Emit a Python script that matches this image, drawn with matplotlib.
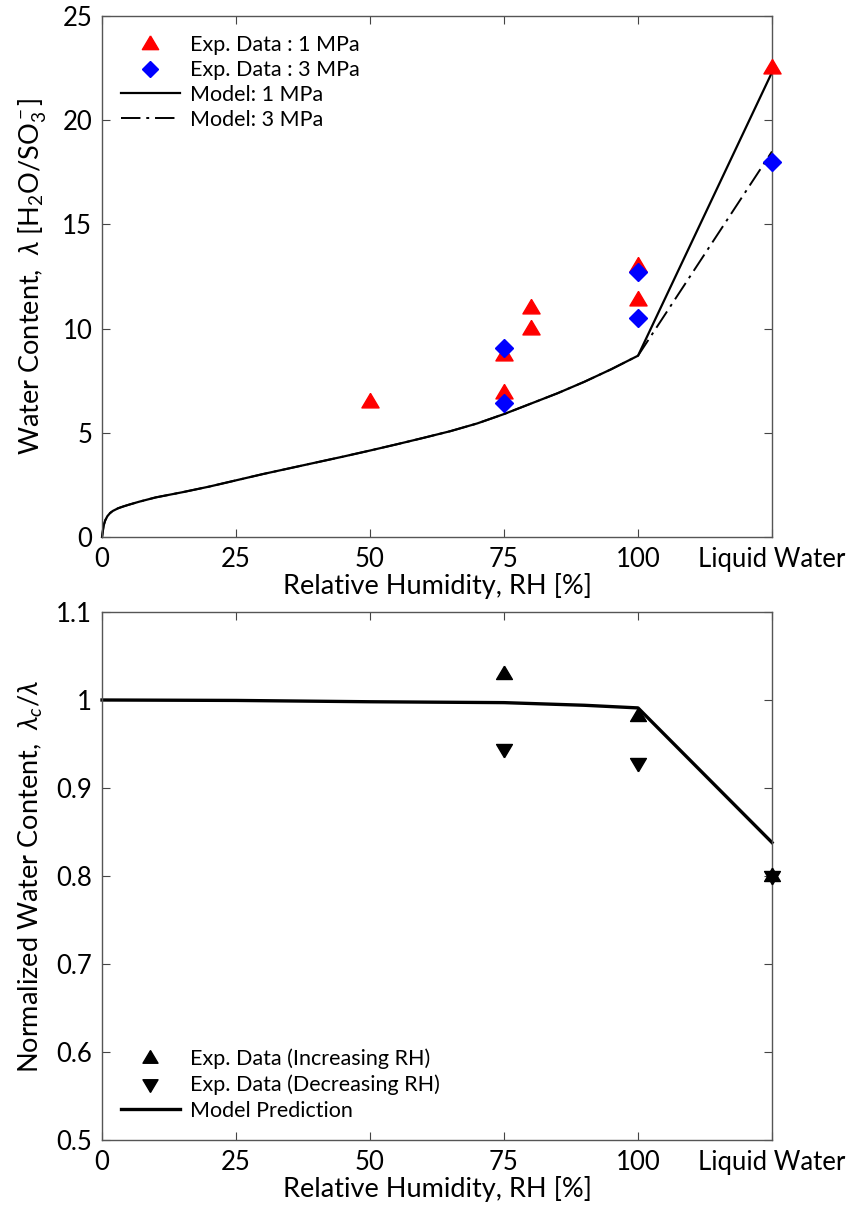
import numpy as np
import matplotlib
matplotlib.use("Agg")
import matplotlib.pyplot as plt

plt.rcParams['font.family'] = ['Lato', 'DejaVu Sans']
plt.rcParams['mathtext.fontset'] = 'custom'
plt.rcParams['mathtext.rm'] = 'Lato'
plt.rcParams['mathtext.it'] = 'Lato:italic'

# x position 125 stands for "Liquid Water"
xticks = [0, 25, 50, 75, 100, 125]
xticklabels = ['0', '25', '50', '75', '100', 'Liquid Water']

# top panel: water content
exp1_x = [50, 75, 75, 80, 80, 100, 100, 125]
exp1_y = [6.5, 6.9, 8.75, 10.0, 11.0, 13.0, 11.35, 22.5]
exp3_x = [75, 75, 100, 100, 125]
exp3_y = [9.05, 6.45, 12.7, 10.5, 18.0]
model_x = [0, 0.3, 0.6, 1, 1.5, 2, 3, 4, 5, 7, 10, 15, 20, 25, 30, 35, 40, 45, 50,
           55, 60, 65, 70, 75, 80, 85, 90, 95, 100]
model_y = [0.0, 0.55, 0.8, 1.0, 1.15, 1.25, 1.38, 1.47, 1.55, 1.7, 1.9, 2.15, 2.42, 2.72,
           3.02, 3.3, 3.58, 3.86, 4.15, 4.45, 4.76, 5.08, 5.45, 5.9, 6.4, 6.9, 7.45, 8.05, 8.7]
model1_liquid = 22.3
model3_liquid = 18.5

# bottom panel: normalized water content
inc_x = [75, 100, 125]
inc_y = [1.03, 0.982, 0.80]
dec_x = [75, 100, 125]
dec_y = [0.944, 0.928, 0.80]
pred_x = [0, 25, 50, 75, 90, 100, 125]
pred_y = [1.0, 0.9995, 0.998, 0.997, 0.994, 0.991, 0.838]

# triangles centred on their centroid, so up + down overlap as a star
tri_up = [(0, 1), (-0.95, -0.6), (0.95, -0.6), (0, 1)]
tri_dn = [(0, -1), (-0.95, 0.6), (0.95, 0.6), (0, -1)]

fig = plt.figure(figsize=(8.48, 12.09), dpi=100)
ax1 = fig.add_axes([0.1203, 0.5558, 0.7901, 0.431])
ax2 = fig.add_axes([0.1203, 0.0571, 0.7901, 0.4367])

ax1.plot(model_x + [125], model_y + [model3_liquid], color='black', lw=1.4,
         ls=(0, (10, 3, 1.5, 3)), label='Model: 3 MPa', zorder=2)
ax1.plot(model_x + [125], model_y + [model1_liquid], color='black', lw=1.6,
         label='Model: 1 MPa', zorder=2)
ax1.plot(exp1_x, exp1_y, ls='none', marker=tri_up, ms=13, color='red', mec='red',
         label='Exp. Data : 1 MPa', zorder=3)
ax1.plot(exp3_x, exp3_y, ls='none', marker='D', ms=9, color='blue', mec='blue',
         label='Exp. Data : 3 MPa', zorder=4)

h, l = ax1.get_legend_handles_labels()
order = [2, 3, 1, 0]
ax1.legend([h[i] for i in order], [l[i] for i in order], loc='upper left',
           frameon=False, fontsize=15.5, handlelength=2.7, markerscale=0.95,
           labelspacing=0.22, handletextpad=0.5, bbox_to_anchor=(0.0, 1.0))

ax1.set_ylim(0, 25)
ax1.set_yticks([0, 5, 10, 15, 20, 25])
ax1.set_ylabel(r'Water Content,  $\lambda$ [H$_2$O/SO$_3^-$]', fontsize=19.5, labelpad=10)

ax2.plot(pred_x, pred_y, color='black', lw=2.4, label='Model Prediction', zorder=2)
ax2.plot(inc_x, inc_y, ls='none', marker=tri_up, ms=12, color='black',
         label='Exp. Data (Increasing RH)', zorder=3)
ax2.plot(dec_x, dec_y, ls='none', marker=tri_dn, ms=12, color='black',
         label='Exp. Data (Decreasing RH)', zorder=3)
h, l = ax2.get_legend_handles_labels()
order = [1, 2, 0]
ax2.legend([h[i] for i in order], [l[i] for i in order], loc='lower left',
           frameon=False, fontsize=15.5, handlelength=2.7, markerscale=0.95,
           labelspacing=0.25, handletextpad=0.5, bbox_to_anchor=(0.0, 0.0))
ax2.set_ylim(0.5, 1.1)
ax2.set_yticks([0.5, 0.6, 0.7, 0.8, 0.9, 1.0, 1.1])
ax2.set_yticklabels(['0.5', '0.6', '0.7', '0.8', '0.9', '1', '1.1'])
ax2.set_ylabel(r'Normalized Water Content,  $\lambda_c/\lambda$', fontsize=19.5, labelpad=8)

for ax in (ax1, ax2):
    ax.set_xlim(0, 125)
    ax.set_xticks(xticks)
    ax.set_xticklabels(xticklabels)
    ax.set_xlabel('Relative Humidity, RH [%]', fontsize=19.5, labelpad=1)
    ax.tick_params(direction='in', top=True, right=True, labelsize=18.5,
                   length=6, width=0.8, color='#444444', pad=7)
    for s in ax.spines.values():
        s.set_color('#555555')
        s.set_linewidth(1.0)
    for line in ax.lines:
        line.set_clip_on(False)

fig.savefig('out.png', dpi=100)
